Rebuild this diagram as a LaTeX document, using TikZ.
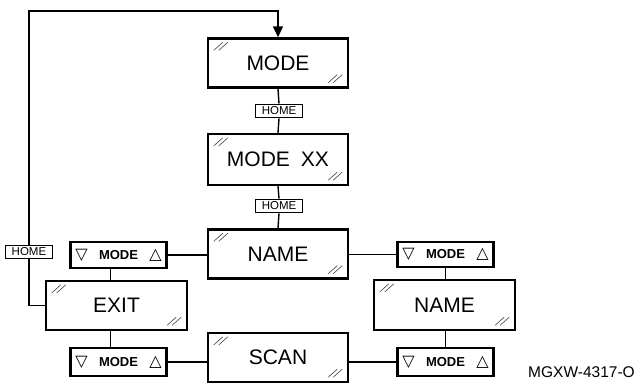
\documentclass[tikz,border=0pt]{standalone}
\usepackage{fontspec}
\setmainfont{Liberation Sans}
\newfontfamily\symfont{DejaVu Sans}
\usetikzlibrary{arrows.meta}

\tikzset{
  screen/.style={draw, line width=2.4pt, minimum width=140pt, minimum height=49pt,
    inner sep=0pt, font=\fontsize{21}{24}\selectfont},
  keybox/.style={draw, line width=1.8pt, minimum width=47pt, minimum height=13pt,
    inner sep=0pt, font=\fontsize{11.5}{12}\selectfont, fill=white},
  modekey/.style={draw, line width=2.2pt, minimum width=96pt, inner sep=0pt,
    font=\fontsize{13}{14}\selectfont\bfseries},
  tri/.style={inner sep=0pt, font=\symfont\fontsize{16}{17}\selectfont},
  wire/.style={line width=1.4pt},
  glare/.style={line width=0.6pt, black!75},
  tag/.style={inner sep=0pt, font=\fontsize{15.5}{18}\selectfont}
}

% two small diagonal strokes in the top-left and bottom-right corners of a screen
\newcommand{\glint}[1]{%
  \draw[glare] ([shift={(7,13)}]#1.north west) -- ++(9,-8)
               ([shift={(12,13)}]#1.north west) -- ++(9,-8);
  \draw[glare] ([shift={(-21,-6)}]#1.south east) -- ++(9,-8)
               ([shift={(-16,-6)}]#1.south east) -- ++(9,-8);
}

% a MODE key with its down and up triangles
\newcommand{\modekey}[3]{%
  \node[modekey, minimum height=#3pt] (#1) at (#2) {MODE};
  \node[tri] at ([xshift=-37pt]#1.center) {▽};
  \node[tri] at ([xshift=37pt]#1.center) {△};
}

\begin{document}
\begin{tikzpicture}[x=1pt, y=-1pt]
\useasboundingbox (0,0) rectangle (637,383);

% screens
\node[screen] (mode)   at (278,63)    {MODE};
\node[screen, minimum height=51pt] (modexx) at (278,159.5) {MODE\hspace{11pt}XX};
\node[screen] (name)   at (278,254)   {NAME};
\node[screen] (scan)   at (278,357.5) {SCAN};
\node[screen, minimum width=141pt] (exit)  at (116.5,305.5) {EXIT};
\node[screen, minimum width=141pt, minimum height=50pt] (nameR) at (444.5,305) {NAME};

\glint{mode}
\glint{modexx}
\glint{name}
\glint{scan}
\glint{exit}
\glint{nameR}

% HOME keys
\node[keybox] (home1) at (279,111) {HOME};
\node[keybox] (home2) at (279,206) {HOME};
\node[keybox] (homeL) at (29,252)  {HOME};

% MODE keys
\modekey{kUL}{118.5,255}{26}
\modekey{kLL}{118.5,362}{28}
\modekey{kUR}{445.5,254.5}{25}
\modekey{kLR}{445.5,362}{28}

% drawing number
\node[tag] (num) at (581.5,372) {MGXW-4317-O};

% connectors
\coordinate (top) at (278,11);
\draw[wire] (mode.south) -- (home1.north);
\draw[wire] (home1.south) -- (modexx.north);
\draw[wire] (modexx.south) -- (home2.north);
\draw[wire] (home2.south) -- (name.north);

\draw[wire] (kUL.east) -- (kUL.east -| name.west);
\draw[wire] ([xshift=-8pt]kUL.south) -- ([xshift=-8pt]kUL.south |- exit.north);
\draw[wire] ([xshift=-8pt]kLL.north) -- ([xshift=-8pt]kLL.north |- exit.south);
\draw[wire] (kLL.east) -- (kLL.east -| scan.west);

\draw[wire] (kUR.west) -- (kUR.west -| name.east);
\draw[wire] (kUR.south) -- (kUR.south |- nameR.north);
\draw[wire] (kLR.north) -- (kLR.north |- nameR.south);
\draw[wire] (kLR.west) -- (kLR.west -| scan.east);

\draw[wire] (exit.west) -| (homeL.south);
\draw[wire, -{Triangle[width=10pt, length=11pt]}] (homeL.north) |- (top) -- (mode.north);
\end{tikzpicture}
\end{document}
